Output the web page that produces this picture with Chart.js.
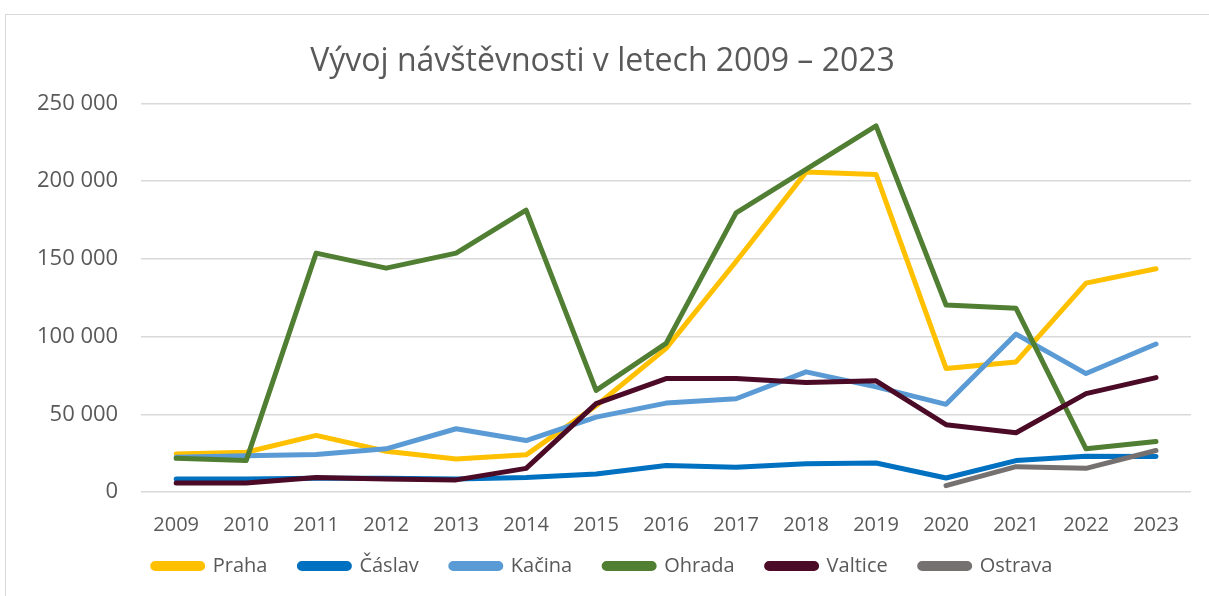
<!DOCTYPE html>
<html lang="cs">
<head>
<meta charset="utf-8">
<title>Vývoj návštěvnosti</title>
<script src="https://cdn.jsdelivr.net/npm/chart.js"></script>
<style>
  html, body { margin: 0; padding: 0; background: #fff; }
  #wrap { position: relative; width: 1209px; height: 596px; overflow: hidden; }
  #frame { position: absolute; left: 5px; top: 14px; width: 1220px; height: 600px; border: 1px solid #d9d9d9; box-sizing: border-box; }
  canvas { position: absolute; left: 0; top: 0; }
</style>
</head>
<body>
<div id="wrap">
  <div id="frame"></div>
  <canvas id="graf" width="1209" height="596"></canvas>
</div>
<script>
// ------ Data ------
const roky = ["2009","2010","2011","2012","2013","2014","2015","2016","2017","2018","2019","2020","2021","2022","2023"];

const praha   = [24500, 25600, 36400, 26200, 21300, 23900, 55500, 92400, 148300, 205800, 204300, 79500, 83700, 134400, 143600];
const caslav  = [8400, 8400, 8800, 8800, 8400, 9400, 11600, 17000, 15900, 18100, 18700, 9000, 20200, 23000, 22800];
const kacina  = [22400, 23400, 24200, 27800, 40700, 33100, 48200, 57200, 60000, 77300, 67600, 56400, 101600, 76200, 95200];
const ohrada  = [21700, 20200, 153700, 144000, 153700, 181300, 65400, 95600, 179600, 207600, 235500, 120300, 118200, 27800, 32500];
const valtice = [5800, 5800, 9400, 8400, 7800, 15200, 56800, 73000, 73000, 70400, 71500, 43300, 38100, 63300, 73600];
const ostrava = [null, null, null, null, null, null, null, null, null, null, null, 4100, 16300, 15200, 26700];

const yTicks = [0, 50000, 100000, 150000, 200000, 250000];

// ------ Utils ------
function formatCislo(v) {
  return String(v).replace(/\B(?=(\d{3})+(?!\d))/g, " ");
}

function serie(label, data, barva, i) {
  return {
    label: label,
    data: data,
    borderColor: barva,
    backgroundColor: barva,
    borderWidth: 5,
    borderCapStyle: "round",
    borderJoinStyle: "round",
    pointRadius: 0,
    tension: 0,
    spanGaps: false,
    order: 10 - i, // pozdější řady nahoře (jako v Excelu)
  };
}

// legenda má velké vodorovné mezery, ale má sedět blíž k ose x
const posunLegendy = {
  id: "posunLegendy",
  afterLayout(chart) {
    if (!chart.legend) return;
    chart.legend.top -= 26;
    chart.legend.bottom -= 26;
  },
};

const sedaText = "#595959";
const pismo = "'Open Sans', 'Noto Sans', sans-serif";

// ------ Graf ------
new Chart(document.getElementById("graf"), {
  type: "line",
  data: {
    labels: roky,
    datasets: [
      serie("Praha", praha, "#FFC000", 0),
      serie("Čáslav", caslav, "#0070C0", 1),
      serie("Kačina", kacina, "#5B9BD5", 2),
      serie("Ohrada", ohrada, "#507E32", 3),
      serie("Valtice", valtice, "#4B0A26", 4),
      serie("Ostrava", ostrava, "#767171", 5),
    ],
  },
  plugins: [posunLegendy],
  options: {
    responsive: false,
    animation: false,
    layout: { padding: { left: 14, right: 18, top: 43, bottom: -16 } },
    plugins: {
      title: {
        display: true,
        text: "Vývoj návštěvnosti v letech 2009 – 2023",
        color: sedaText,
        font: { family: pismo, size: 32, weight: "normal" },
        padding: { top: 0, bottom: 22 },
      },
      legend: {
        position: "bottom",
        labels: {
          color: sedaText,
          font: { family: pismo, size: 20 },
          boxWidth: 50,
          boxHeight: 5,
          useBorderRadius: true,
          borderRadius: 2.5,
          padding: 32,
          sort: (a, b) => a.datasetIndex - b.datasetIndex,
        },
      },
      tooltip: { enabled: false },
    },
    scales: {
      x: {
        offset: true,
        grid: { display: false },
        border: { display: false },
        ticks: { color: sedaText, font: { family: pismo, size: 20 }, padding: 13, maxRotation: 0 },
      },
      y: {
        min: 0,
        max: 250000,
        afterBuildTicks: (ax) => { ax.ticks = yTicks.map(v => ({ value: v })); },
        grid: { color: "#d9d9d9", lineWidth: 1.5, drawTicks: false },
        border: { display: false },
        ticks: { color: sedaText, font: { family: pismo, size: 22 }, padding: 23, callback: (v) => formatCislo(v) },
      },
    },
  },
});
</script>
</body>
</html>
